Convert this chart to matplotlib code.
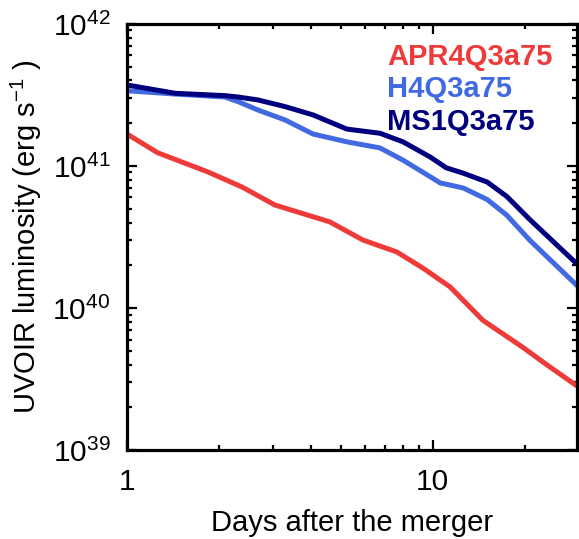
import matplotlib
matplotlib.use("Agg")
import matplotlib.pyplot as plt
from matplotlib.ticker import LogLocator, FixedLocator, FixedFormatter, NullFormatter

plt.rcParams["font.family"] = ["Liberation Sans", "DejaVu Sans"]
plt.rcParams["mathtext.fontset"] = "custom"
plt.rcParams["mathtext.rm"] = "Liberation Sans"
plt.rcParams["mathtext.it"] = "Liberation Sans:italic"
plt.rcParams["mathtext.bf"] = "Liberation Sans:bold"

# Bolometric (UVOIR) light curves, days after merger vs luminosity [erg/s]
days_apr4 = [1.0, 1.26, 1.84, 2.38, 3.05, 4.61, 5.92, 7.64, 9.3, 11.4, 14.6, 19.7, 23.7, 30.0]
lum_apr4 = [1.68e41, 1.24e41, 9.08e40, 7.11e40, 5.31e40, 4.04e40, 3.01e40, 2.48e40,
            1.91e40, 1.41e40, 8.2e39, 5.3e39, 3.97e39, 2.78e39]

days_h4 = [1.0, 1.44, 2.09, 2.31, 2.68, 3.29, 4.06, 5.24, 6.73, 8.0, 10.6, 12.6, 15.1, 17.5, 20.8, 30.0]
lum_h4 = [3.39e41, 3.21e41, 3.06e41, 2.84e41, 2.48e41, 2.11e41, 1.68e41, 1.48e41,
          1.34e41, 1.10e41, 7.6e40, 7.0e40, 5.8e40, 4.5e40, 3.0e40, 1.41e40]

days_ms1 = [1.0, 1.44, 2.09, 2.31, 2.68, 3.29, 4.06, 5.24, 6.73, 8.0, 9.8, 11.1, 12.6, 15.1, 17.5, 20.8, 30.0]
lum_ms1 = [3.72e41, 3.25e41, 3.13e41, 3.06e41, 2.92e41, 2.62e41, 2.29e41, 1.82e41,
           1.70e41, 1.48e41, 1.16e41, 9.7e40, 8.9e40, 7.7e40, 6.1e40, 4.2e40, 2.0e40]

model_names = ["APR4Q3a75", "H4Q3a75", "MS1Q3a75"]
model_colors = ["#EF3A3A", "#4169E1", "#00007F"]

y_ticks = [1e39, 1e40, 1e41, 1e42]
y_tick_labels = [r"$10^{39}$", r"$10^{40}$", r"$10^{41}$", r"$10^{42}$"]
x_ticks = [1, 10]
x_tick_labels = ["1", "10"]

fig = plt.figure(figsize=(5.79, 5.39), dpi=100)
ax = fig.add_axes([0.2193, 0.1651, 0.7781, 0.7904])

for d, l, c in zip([days_apr4, days_h4, days_ms1], [lum_apr4, lum_h4, lum_ms1], model_colors):
    ax.plot(d, l, color=c, lw=3.6, solid_capstyle="butt", solid_joinstyle="round")

ax.set_xscale("log")
ax.set_yscale("log")
ax.set_xlim(1, 29.8)
ax.set_ylim(1e39, 1e42)

ax.xaxis.set_major_locator(FixedLocator(x_ticks))
ax.xaxis.set_major_formatter(FixedFormatter(x_tick_labels))
ax.xaxis.set_minor_locator(LogLocator(base=10, subs=range(2, 10), numticks=20))
ax.xaxis.set_minor_formatter(NullFormatter())
ax.yaxis.set_major_locator(FixedLocator(y_ticks))
ax.yaxis.set_major_formatter(FixedFormatter(y_tick_labels))
ax.yaxis.set_minor_locator(LogLocator(base=10, subs=range(2, 10), numticks=20))
ax.yaxis.set_minor_formatter(NullFormatter())

for s in ax.spines.values():
    s.set_linewidth(2.3)
ax.tick_params(which="both", direction="in", top=True, right=True, width=1.6)
ax.tick_params(which="major", length=7.5, labelsize=21.5)
ax.tick_params(which="minor", length=3.8)
ax.tick_params(axis="y", which="major", pad=12)
ax.tick_params(axis="x", which="major", pad=13)

ax.set_xlabel("Days after the merger", fontsize=21, labelpad=9)
ax.set_ylabel(r"UVOIR luminosity (erg s$^{-1}$ )", fontsize=21, labelpad=6)

for i, (name, c) in enumerate(zip(model_names, model_colors)):
    ax.text(0.578, 0.904 - i * 0.0763, name, transform=ax.transAxes, color=c,
            fontsize=21, fontweight="bold", ha="left", va="baseline")

fig.savefig("out.png", dpi=100)
